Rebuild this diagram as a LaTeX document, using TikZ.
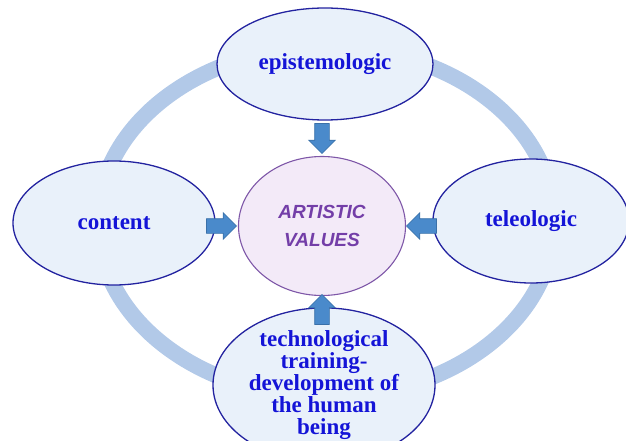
\documentclass[tikz,border=0pt]{standalone}
\usepackage{fontspec}
\setmainfont{Liberation Serif}
\newfontfamily\artfont{Liberation Sans}
\usepackage{tikz}
\usetikzlibrary{shapes.geometric,shapes.arrows}

\definecolor{ringblue}{RGB}{178,201,232}
\definecolor{ellfill}{RGB}{233,241,250}
\definecolor{elldraw}{RGB}{35,35,160}
\definecolor{labelblue}{RGB}{20,20,215}
\definecolor{artfill}{RGB}{243,234,248}
\definecolor{artdraw}{RGB}{126,87,168}
\definecolor{arttext}{RGB}{115,62,168}
\definecolor{pushfill}{RGB}{74,138,203}
\definecolor{pushdraw}{RGB}{58,112,168}

\begin{document}
\begin{tikzpicture}[x=1pt,y=-1pt,
    aspect/.style={ellipse,draw=elldraw,line width=1.3pt,fill=ellfill,inner sep=0pt,
        text=labelblue,font=\bfseries\fontsize{23}{22}\selectfont,align=center},
    core/.style={ellipse,draw=artdraw,line width=1.1pt,fill=artfill,inner sep=0pt,
        text=arttext,font=\artfont\bfseries\itshape\fontsize{19}{28}\selectfont,align=center},
    push/.style={single arrow,draw=pushdraw,fill=pushfill,line width=0.6pt,
        inner sep=7pt,minimum width=26pt,anchor=tip,
        single arrow head extend=6pt,minimum height=30pt}]
    \useasboundingbox (0,0) rectangle (626,441);
    % light ring behind the four aspects
    \draw[ringblue,line width=16pt] (326,222) ellipse [x radius=228pt,y radius=175pt];

    \node[aspect,minimum width=216pt,minimum height=112pt] (epi) at (325,64) {epistemologic};
    \node[aspect,minimum width=202pt,minimum height=124pt] (cont) at (114,223) {content};
    \node[aspect,minimum width=196pt,minimum height=124pt] (tele) at (531,221) {teleologic};
    \node[aspect,minimum width=222pt,minimum height=130pt] (tech) at (324,385)
        {technological\\training-\\development of\\the human\\being};
    \node[core,minimum width=167pt,minimum height=139pt] (art) at (322,226) {ARTISTIC\\VALUES};

    % block arrows pointing into the centre
    \node[push,rotate=270] (p1) at ([yshift=2pt]art.north) {};
    \node[push] (p2) at ([xshift=-1pt]art.west) {};
    \node[push,rotate=180] (p3) at (art.east) {};
    \node[push,rotate=90] (p4) at ([yshift=2pt]art.south) {};
\end{tikzpicture}
\end{document}
